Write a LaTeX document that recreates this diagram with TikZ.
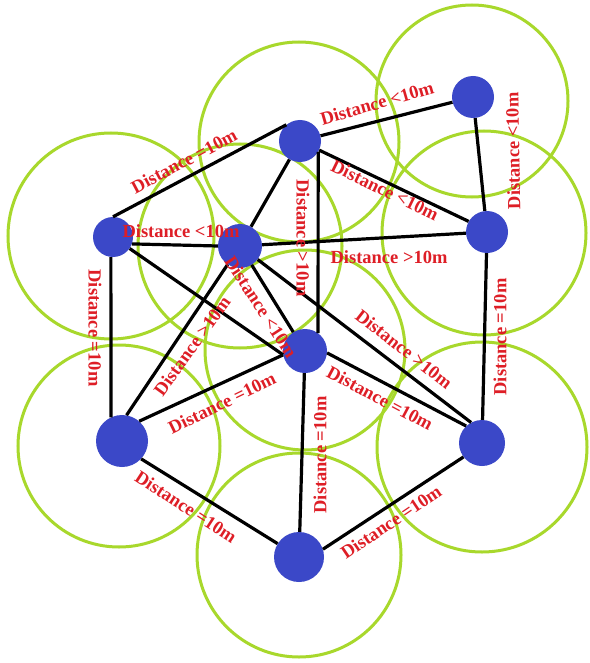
\documentclass[tikz,border=0pt]{standalone}
\usepackage{fontspec}
\setmainfont{Liberation Serif}
\definecolor{nodeblue}{RGB}{59,72,200}
\definecolor{rangegreen}{RGB}{168,216,44}
\definecolor{lblred}{RGB}{222,30,38}
\begin{document}
\begin{tikzpicture}[x=1pt,y=-1pt,
  sensor/.style={circle, fill=nodeblue, inner sep=0pt, minimum size=#1},
  link/.style={line width=3.2pt, draw=black},
  rangecircle/.style={draw=rangegreen, line width=3pt},
  lbl/.style={text=lblred, font=\bfseries\fontsize{18.5}{20}\selectfont, inner sep=0pt}]
\useasboundingbox[fill=white] (0,0) rectangle (589,663);

% range circles
\draw[rangecircle] (299,142) circle[radius=100pt];
\draw[rangecircle] (472,101) circle[radius=96pt];
\draw[rangecircle] (484,233) circle[radius=102pt];
\draw[rangecircle] (111,236) circle[radius=103pt];
\draw[rangecircle] (240,246) circle[radius=102pt];
\draw[rangecircle] (305,350) circle[radius=100pt];
\draw[rangecircle] (119,446) circle[radius=101pt];
\draw[rangecircle] (482,447) circle[radius=105pt];
\draw[rangecircle] (299,555) circle[radius=102pt];

% sensor nodes
\node[sensor=42pt] (A) at (300,141) {};
\node[sensor=42pt] (B) at (473,97) {};
\node[sensor=42pt] (C) at (487,232) {};
\node[sensor=40pt] (D) at (113,237) {};
\node[sensor=44pt] (E) at (240,246) {};
\node[sensor=44pt] (F) at (305,351) {};
\node[sensor=52pt] (G) at (122,441) {};
\node[sensor=46pt] (H) at (482,443) {};
\node[sensor=50pt] (I) at (299,557) {};

% links
\draw[link] (D.north) -- (A.130);
\draw[link] (A) -- (B);
\draw[link] (B) -- (C);
\draw[link] (A) -- (C.150);
\draw[link] (A) -- (E);
\draw[link] (A.-31) -- (F.54);
\draw[link] (D.-20) -- (E.180);
\draw[link] (E) -- (C);
\draw[link] (D) -- (F.190);
\draw[link] (E) -- (F);
\draw[link] (E) -- (H.118);
\draw[link] (E) -- (G.80);
\draw[link] (D.-96) -- (G.115);
\draw[link] (G.49) -- (F.190);
\draw[link] (F.-5) -- (H.133);
\draw[link] (C) -- (H);
\draw[link] (F) -- (I);
\draw[link] (G.-43) -- (I.148);
\draw[link] (I.18) -- (H.217);

% labels
\node[lbl, rotate=28] (l1) at (184,161) {Distance =10m};
\node[lbl, rotate=16] (l2) at (377,103) {Distance <10m};
\node[lbl, rotate=91] (l3) at (513,151) {Distance <10m};
\node[lbl, rotate=-26] (l4) at (385,190) {Distance <10m};
\node[lbl] (l5) at (181,231) {Distance <10m};
\node[lbl] (l6) at (389,257) {Distance >10m};
\node[lbl, rotate=-90] (l7) at (303,238) {Distance >10m};
\node[lbl, rotate=-57] (l8) at (261,307) {Distance <10m};
\node[lbl, rotate=54] (l9) at (192,346) {Distance >10m};
\node[lbl, rotate=-90] (l10) at (95,328) {Distance =10m};
\node[lbl, rotate=26] (l11) at (222,403) {Distance =10m};
\node[lbl, rotate=-28] (l12) at (380,398) {Distance =10m};
\node[lbl, rotate=-38] (l13) at (404,349) {Distance >10m};
\node[lbl, rotate=90] (l14) at (500,337) {Distance =10m};
\node[lbl, rotate=90] (l15) at (320,455) {Distance =10m};
\node[lbl, rotate=-33] (l16) at (186,507) {Distance =10m};
\node[lbl, rotate=34] (l17) at (391,522) {Distance =10m};
\end{tikzpicture}
\end{document}
